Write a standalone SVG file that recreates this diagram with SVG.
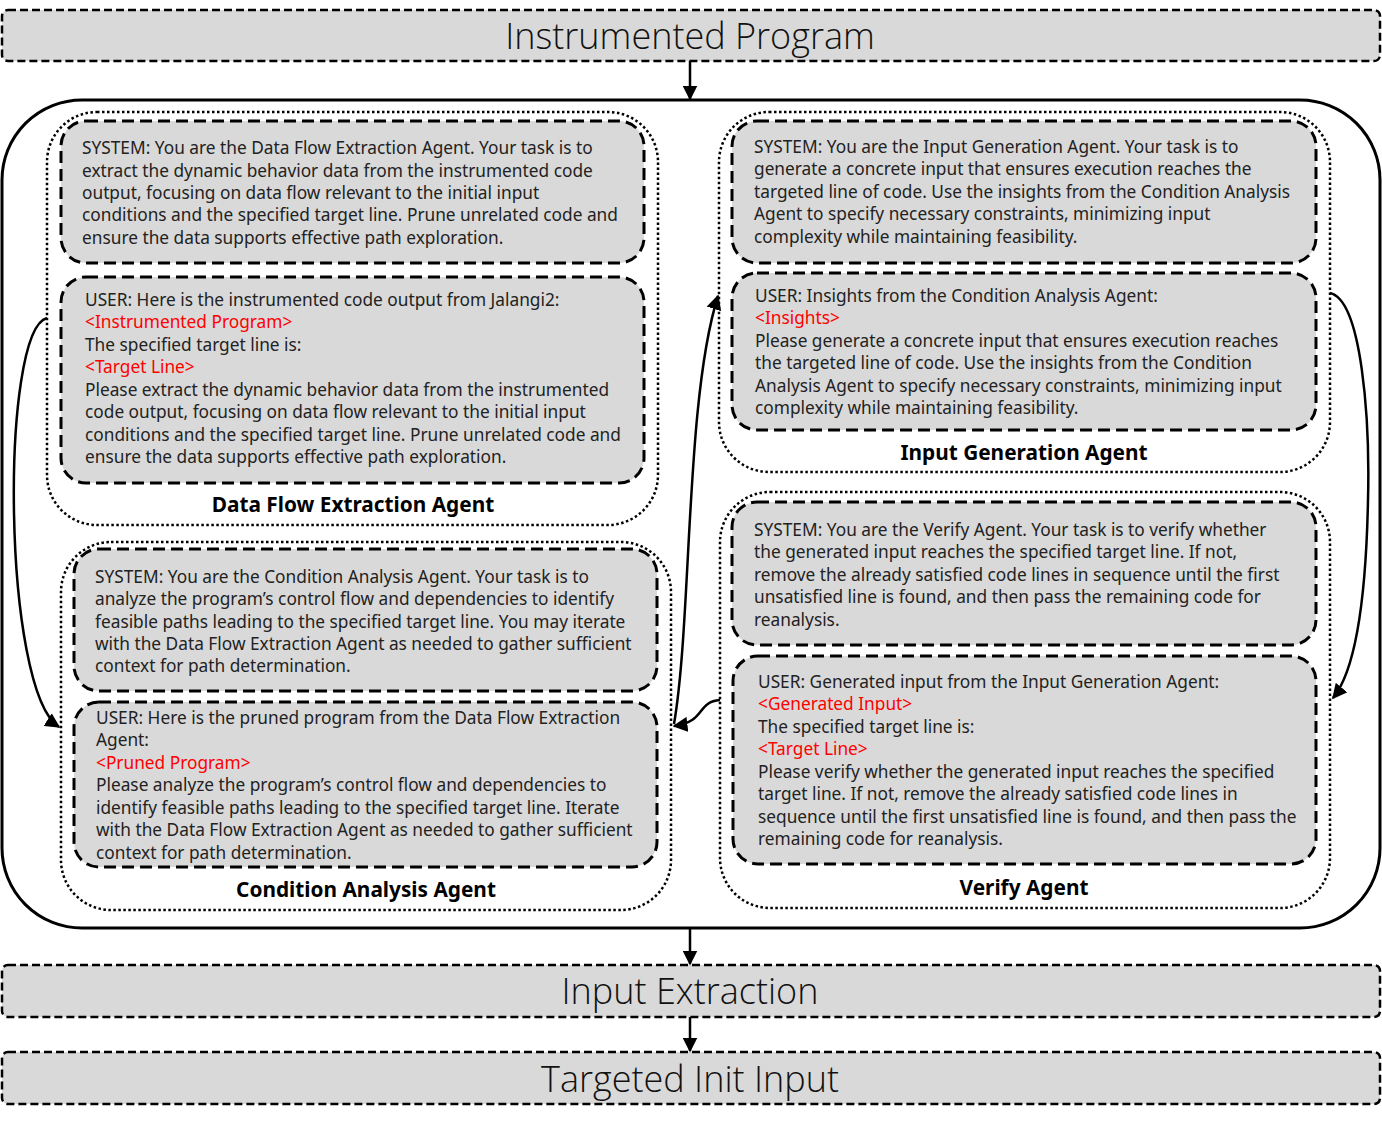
<svg xmlns="http://www.w3.org/2000/svg" width="1382" height="1124" viewBox="0 0 1382 1124">
  <defs>
    <marker id="arrow" viewBox="0 0 10 10" refX="9" refY="5" markerWidth="6" markerHeight="6" orient="auto-start-reverse" markerUnits="strokeWidth">
      <path d="M0,0 L10,5 L0,10 z" fill="#000"/>
    </marker>
    <style>
      .bar { fill: #d9d9d9; stroke: #000; stroke-width: 2.5; stroke-dasharray: 8 4; }
      .bar-text { font-family: "Open Sans", "Noto Sans", sans-serif; font-weight: 300; font-size: 36px; fill: #111; text-anchor: middle; }
      .outer { fill: none; stroke: #000; stroke-width: 3; }
      .agent { fill: none; stroke: #000; stroke-width: 2.5; stroke-dasharray: 2.5 2.5; }
      .prompt { fill: #d9d9d9; stroke: #000; stroke-width: 3; stroke-dasharray: 12 6; }
      .t { font-family: "Noto Sans", "Open Sans", sans-serif; font-size: 17.3px; fill: #222; }
      .r { fill: #ff0000; }
      .label { font-family: "Noto Sans", "Liberation Sans", sans-serif; font-weight: bold; font-size: 20.8px; fill: #000; text-anchor: middle; }
      .wire { fill: none; stroke: #000; stroke-width: 2.5; }
    </style>
  </defs>

  <!-- top input bar -->
  <g id="instrumented-program">
    <rect class="bar" x="2" y="10" width="1378" height="51" rx="6"/>
    <text class="bar-text" x="690" y="49">Instrumented Program</text>
  </g>

  <!-- multi-agent container -->
  <g id="agent-system">
    <rect class="outer" x="2" y="100" width="1378" height="828" rx="80"/>
  </g>

  <!-- Data Flow Extraction Agent -->
  <g id="data-flow-extraction-agent">
    <rect class="agent" x="47" y="112" width="611" height="413" rx="50"/>
    <rect class="prompt" x="61" y="121" width="583" height="142" rx="25"/>
    <text class="t" x="82" y="154">SYSTEM: You are the Data Flow Extraction Agent. Your task is to</text>
    <text class="t" x="82" y="177">extract the dynamic behavior data from the instrumented code</text>
    <text class="t" x="82" y="199">output, focusing on data flow relevant to the initial input</text>
    <text class="t" x="82" y="221">conditions and the specified target line. Prune unrelated code and</text>
    <text class="t" x="82" y="244">ensure the data supports effective path exploration.</text>
    <rect class="prompt" x="61" y="277" width="583" height="206" rx="25"/>
    <text class="t" x="85" y="306">USER: Here is the instrumented code output from Jalangi2:</text>
    <text class="t r" x="85" y="328">&lt;Instrumented Program&gt;</text>
    <text class="t" x="85" y="351">The specified target line is:</text>
    <text class="t r" x="85" y="373">&lt;Target Line&gt;</text>
    <text class="t" x="85" y="396">Please extract the dynamic behavior data from the instrumented</text>
    <text class="t" x="85" y="418">code output, focusing on data flow relevant to the initial input</text>
    <text class="t" x="85" y="441">conditions and the specified target line. Prune unrelated code and</text>
    <text class="t" x="85" y="463">ensure the data supports effective path exploration.</text>
    <text class="label" x="353" y="512">Data Flow Extraction Agent</text>
  </g>

  <!-- Condition Analysis Agent -->
  <g id="condition-analysis-agent">
    <rect class="agent" x="61" y="542" width="610" height="368" rx="50"/>
    <rect class="prompt" x="74" y="549" width="583" height="142" rx="25"/>
    <text class="t" x="95" y="583">SYSTEM: You are the Condition Analysis Agent. Your task is to</text>
    <text class="t" x="95" y="605">analyze the program’s control flow and dependencies to identify</text>
    <text class="t" x="95" y="628">feasible paths leading to the specified target line. You may iterate</text>
    <text class="t" x="95" y="650">with the Data Flow Extraction Agent as needed to gather sufficient</text>
    <text class="t" x="95" y="672">context for path determination.</text>
    <rect class="prompt" x="74" y="702" width="583" height="165" rx="25"/>
    <text class="t" x="96" y="724">USER: Here is the pruned program from the Data Flow Extraction</text>
    <text class="t" x="96" y="746">Agent:</text>
    <text class="t r" x="96" y="769">&lt;Pruned Program&gt;</text>
    <text class="t" x="96" y="791">Please analyze the program’s control flow and dependencies to</text>
    <text class="t" x="96" y="814">identify feasible paths leading to the specified target line. Iterate</text>
    <text class="t" x="96" y="836">with the Data Flow Extraction Agent as needed to gather sufficient</text>
    <text class="t" x="96" y="859">context for path determination.</text>
    <text class="label" x="366" y="897">Condition Analysis Agent</text>
  </g>

  <!-- Input Generation Agent -->
  <g id="input-generation-agent">
    <rect class="agent" x="719" y="112" width="611" height="360" rx="50"/>
    <rect class="prompt" x="732" y="121" width="584" height="142" rx="25"/>
    <text class="t" x="754" y="153">SYSTEM: You are the Input Generation Agent. Your task is to</text>
    <text class="t" x="754" y="175">generate a concrete input that ensures execution reaches the</text>
    <text class="t" x="754" y="198">targeted line of code. Use the insights from the Condition Analysis</text>
    <text class="t" x="754" y="220">Agent to specify necessary constraints, minimizing input</text>
    <text class="t" x="754" y="243">complexity while maintaining feasibility.</text>
    <rect class="prompt" x="732" y="273" width="584" height="157" rx="25"/>
    <text class="t" x="755" y="302">USER: Insights from the Condition Analysis Agent:</text>
    <text class="t r" x="755" y="324">&lt;Insights&gt;</text>
    <text class="t" x="755" y="347">Please generate a concrete input that ensures execution reaches</text>
    <text class="t" x="755" y="369">the targeted line of code. Use the insights from the Condition</text>
    <text class="t" x="755" y="392">Analysis Agent to specify necessary constraints, minimizing input</text>
    <text class="t" x="755" y="414">complexity while maintaining feasibility.</text>
    <text class="label" x="1024" y="460">Input Generation Agent</text>
  </g>

  <!-- Verify Agent -->
  <g id="verify-agent">
    <rect class="agent" x="720" y="492" width="610" height="416" rx="50"/>
    <rect class="prompt" x="732" y="502" width="584" height="143" rx="25"/>
    <text class="t" x="754" y="536">SYSTEM: You are the Verify Agent. Your task is to verify whether</text>
    <text class="t" x="754" y="558">the generated input reaches the specified target line. If not,</text>
    <text class="t" x="754" y="581">remove the already satisfied code lines in sequence until the first</text>
    <text class="t" x="754" y="603">unsatisfied line is found, and then pass the remaining code for</text>
    <text class="t" x="754" y="626">reanalysis.</text>
    <rect class="prompt" x="733" y="656" width="583" height="208" rx="25"/>
    <text class="t" x="758" y="688">USER: Generated input from the Input Generation Agent:</text>
    <text class="t r" x="758" y="710">&lt;Generated Input&gt;</text>
    <text class="t" x="758" y="733">The specified target line is:</text>
    <text class="t r" x="758" y="755">&lt;Target Line&gt;</text>
    <text class="t" x="758" y="778">Please verify whether the generated input reaches the specified</text>
    <text class="t" x="758" y="800">target line. If not, remove the already satisfied code lines in</text>
    <text class="t" x="758" y="823">sequence until the first unsatisfied line is found, and then pass the</text>
    <text class="t" x="758" y="845">remaining code for reanalysis.</text>
    <text class="label" x="1024" y="895">Verify Agent</text>
  </g>

  <!-- output bars -->
  <g id="input-extraction">
    <rect class="bar" x="2" y="965" width="1378" height="52" rx="6"/>
    <text class="bar-text" x="690" y="1004">Input Extraction</text>
  </g>
  <g id="targeted-init-input">
    <rect class="bar" x="2" y="1052" width="1378" height="52" rx="6"/>
    <text class="bar-text" x="690" y="1092">Targeted Init Input</text>
  </g>

  <!-- connectors -->
  <g id="connectors">
    <path class="wire" d="M690 61 L690 99" marker-end="url(#arrow)"/>
    <path class="wire" d="M690 928 L690 964" marker-end="url(#arrow)"/>
    <path class="wire" d="M690 1017 L690 1051" marker-end="url(#arrow)"/>
    <path class="wire" d="M47 318 C0 330, 2 690, 59 727" marker-end="url(#arrow)"/>
    <path class="wire" d="M674 724 C692 620, 685 400, 718 296" marker-end="url(#arrow)"/>
    <path class="wire" d="M720 700 C696 702, 706 722, 674 726" marker-end="url(#arrow)"/>
    <path class="wire" d="M1330 293 C1362 300, 1370 420, 1368 500 C1366 600, 1356 670, 1333 698" marker-end="url(#arrow)"/>
  </g>
</svg>
